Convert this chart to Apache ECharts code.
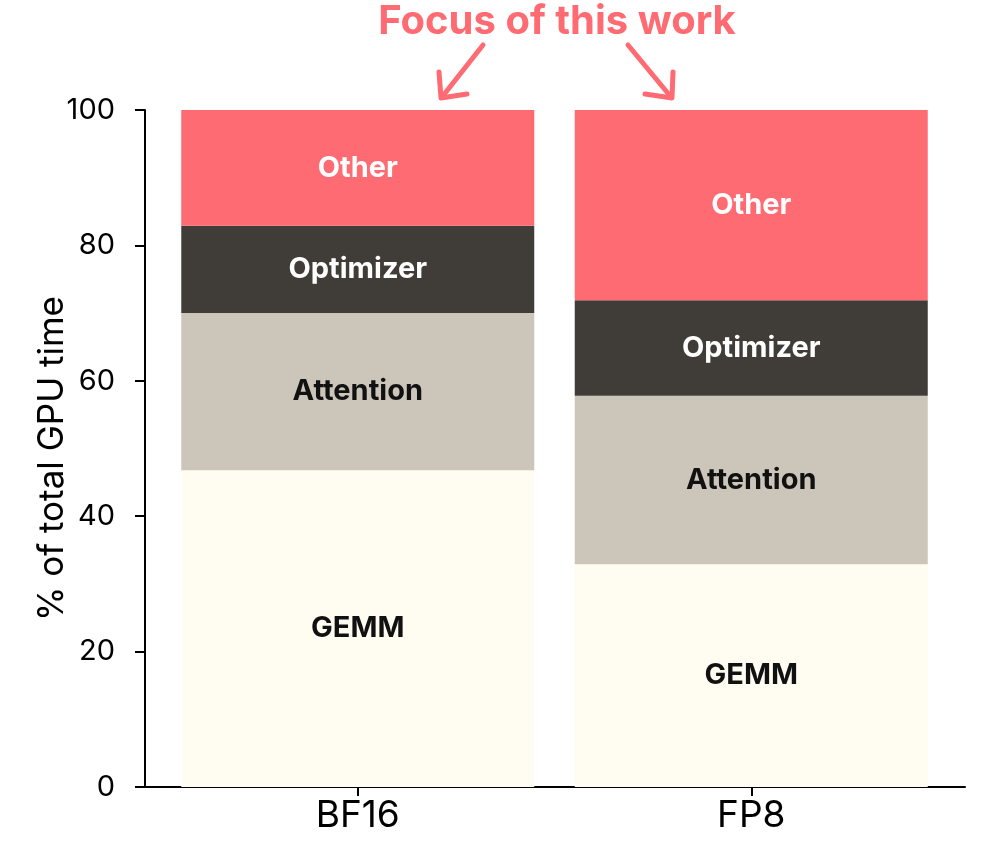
<!DOCTYPE html>
<html>
<head>
<meta charset="utf-8">
<script src="https://cdn.jsdelivr.net/npm/echarts@6/dist/echarts.min.js"></script>
<style>
  html, body { margin: 0; padding: 0; background: #fff; }
  #chart { width: 986px; height: 863px; }
</style>
</head>
<body>
<div id="chart"></div>
<script>
const categories = ["BF16", "FP8"];
const gemm = [46.8, 32.9];
const attention = [23.2, 24.9];
const optimizer = [12.9, 14.1];
const other = [17.1, 28.1];

const colors = {
  GEMM: "#FFFCF2",
  Attention: "#CCC5B9",
  Optimizer: "#403D39",
  Other: "#FF6B72",
};
const labelColors = {
  GEMM: "#111",
  Attention: "#111",
  Optimizer: "#fff",
  Other: "#fff",
};

const pink = "#FF6B72";
const font = "Inter";

const myChart = echarts.init(document.getElementById("chart"));

const makeSeries = (name, values) => ({
  name: name,
  type: "bar",
  stack: "total",
  barWidth: 353,
  data: values,
  itemStyle: { color: colors[name] },
  label: {
    show: true,
    position: "inside",
    formatter: "{a}",
    color: labelColors[name],
    fontFamily: font,
    fontWeight: "bold",
    fontSize: 29,
  },
  emphasis: { disabled: true },
});

myChart.setOption({
  animation: false,
  title: {
    text: "Focus of this work",
    left: 552,
    textAlign: "center",
    top: -3,
    textStyle: {
      color: pink,
      fontFamily: font,
      fontWeight: "bold",
      fontSize: 40,
    },
  },
  // grid 0 holds the bars, grid 1 the visible frame (y axis and long x line)
  grid: [
    { left: 161, right: 38, top: 110, bottom: 76 },
    { left: 145, right: 21, top: 110, bottom: 76 },
  ],
  xAxis: [
    {
      type: "category",
      gridIndex: 0,
      data: categories,
      axisLine: { show: false },
      axisTick: {
        show: true,
        alignWithLabel: true,
        length: 9,
        lineStyle: { color: "#000", width: 2 },
      },
      axisLabel: {
        color: "#000",
        fontFamily: font,
        fontSize: 37,
        margin: 10,
      },
    },
    {
      type: "value",
      gridIndex: 1,
      min: 0,
      max: 1,
      axisLine: { show: true, lineStyle: { color: "#000", width: 2 } },
      axisTick: { show: false },
      axisLabel: { show: false },
      splitLine: { show: false },
    },
  ],
  yAxis: [
    {
      type: "value",
      gridIndex: 0,
      min: 0,
      max: 100,
      show: false,
    },
    {
      type: "value",
      gridIndex: 1,
      min: 0,
      max: 100,
      interval: 20,
      name: "% of total GPU time",
      nameLocation: "middle",
      nameRotate: 90,
      nameGap: 75,
      nameMoveOverlap: false,
      nameTextStyle: {
        color: "#000",
        fontFamily: font,
        fontSize: 35,
        padding: [0, 20, 0, 0],
      },
      splitLine: { show: false },
      axisLine: { show: true, onZero: false, lineStyle: { color: "#000", width: 2 } },
      axisTick: { show: true, length: 10, lineStyle: { color: "#000", width: 2 } },
      axisLabel: {
        color: "#000",
        fontFamily: font,
        fontSize: 29,
        margin: 30,
      },
    },
  ],
  series: [
    makeSeries("GEMM", gemm),
    makeSeries("Attention", attention),
    makeSeries("Optimizer", optimizer),
    makeSeries("Other", other),
  ],
  graphic: [
    {
      type: "polyline",
      shape: { points: [[483, 45], [442, 97]] },
      style: { stroke: pink, lineWidth: 5, lineCap: "round" },
    },
    {
      type: "polyline",
      shape: { points: [[439, 72], [441, 98], [467, 94]] },
      style: { stroke: pink, lineWidth: 5, lineCap: "round", lineJoin: "round", fill: null },
    },
    {
      type: "polyline",
      shape: { points: [[628, 45], [671, 97]] },
      style: { stroke: pink, lineWidth: 5, lineCap: "round" },
    },
    {
      type: "polyline",
      shape: { points: [[673, 72], [672, 98], [645, 94]] },
      style: { stroke: pink, lineWidth: 5, lineCap: "round", lineJoin: "round", fill: null },
    },
  ],
});
</script>
</body>
</html>
